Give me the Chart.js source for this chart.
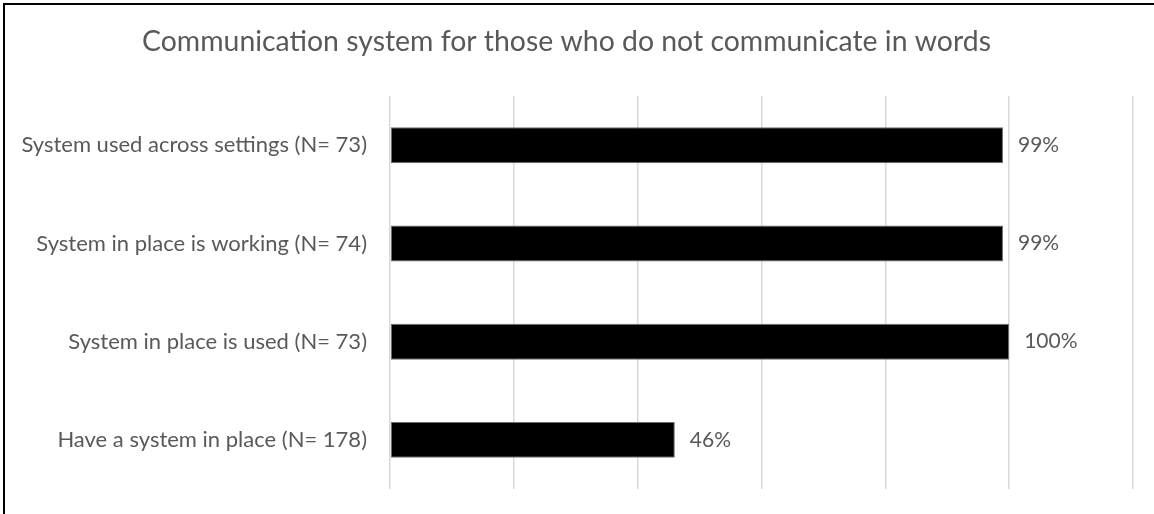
<!DOCTYPE html>
<html>
<head>
<meta charset="utf-8">
<script src="https://cdn.jsdelivr.net/npm/chart.js@4/dist/chart.umd.min.js"></script>
<style>
  html, body { margin: 0; padding: 0; background: #fff; }
  #wrap { position: relative; width: 1154px; height: 514px; }
  #frame {
    position: absolute; left: 3px; top: 3px; right: 0; bottom: 0;
    border-top: 2px solid #000; border-left: 2px solid #000;
    pointer-events: none;
  }
</style>
</head>
<body>
<div id="wrap">
  <canvas id="barChart" width="1154" height="514"></canvas>
  <div id="frame"></div>
</div>
<script>
// Kategori dan nilai (persen)
const categories = [
  "System used across settings (N= 73)",
  "System in place is working (N= 74)",
  "System in place is used (N= 73)",
  "Have a system in place (N= 178)",
];
const percentValues = [99, 99, 100, 46];
const axisMin = 0;
const axisMax = 120;
const axisStep = 20;

const fontFamily = "Lato, 'Open Sans', sans-serif";
const textColor = "#595959";

// Label nilai di ujung kanan tiap bar
const valueLabels = {
  id: "valueLabels",
  afterDatasetsDraw(chart) {
    const ctx = chart.ctx;
    const meta = chart.getDatasetMeta(0);
    ctx.save();
    ctx.font = "21px " + fontFamily;
    ctx.fillStyle = textColor;
    ctx.textAlign = "left";
    ctx.textBaseline = "middle";
    meta.data.forEach(function (bar, i) {
      ctx.fillText(percentValues[i] + "%", bar.x + 15, bar.y);
    });
    ctx.restore();
  },
};

const ctxBar = document.getElementById("barChart");
new Chart(ctxBar.getContext("2d"), {
  type: "bar",
  data: {
    labels: categories,
    datasets: [
      {
        data: percentValues,
        backgroundColor: "#000000",
        borderColor: "#6e6e6e",
        borderWidth: 1,
        borderSkipped: false,
        categoryPercentage: 1,
        barPercentage: 0.366,
      },
    ],
  },
  options: {
    indexAxis: "y",
    responsive: false,
    animation: false,
    layout: {
      padding: { left: 0, right: 21, top: 0, bottom: 25 },
    },
    scales: {
      x: {
        min: axisMin,
        max: axisMax,
        ticks: { display: false, stepSize: axisStep },
        grid: { color: "#d9d9d9", lineWidth: 1.5, drawTicks: false },
        border: { display: false },
        afterFit: function (scale) {
          scale.height = 0;
          scale.paddingBottom = 0;
          scale.paddingTop = 0;
        },
      },
      y: {
        ticks: {
          color: textColor,
          font: { family: fontFamily, size: 22 },
          padding: 23,
        },
        grid: { display: false, drawTicks: false },
        border: { display: false },
        afterFit: function (scale) {
          scale.width = 390;
          scale.paddingTop = 0;
          scale.paddingBottom = 0;
        },
      },
    },
    plugins: {
      legend: { display: false },
      tooltip: { enabled: false },
      title: {
        display: true,
        text: "Communication system for those who do not communicate in words",
        color: textColor,
        font: { family: fontFamily, size: 28.4, weight: "normal" },
        padding: { top: 25, bottom: 37 },
      },
    },
  },
  plugins: [valueLabels],
});
</script>
</body>
</html>
